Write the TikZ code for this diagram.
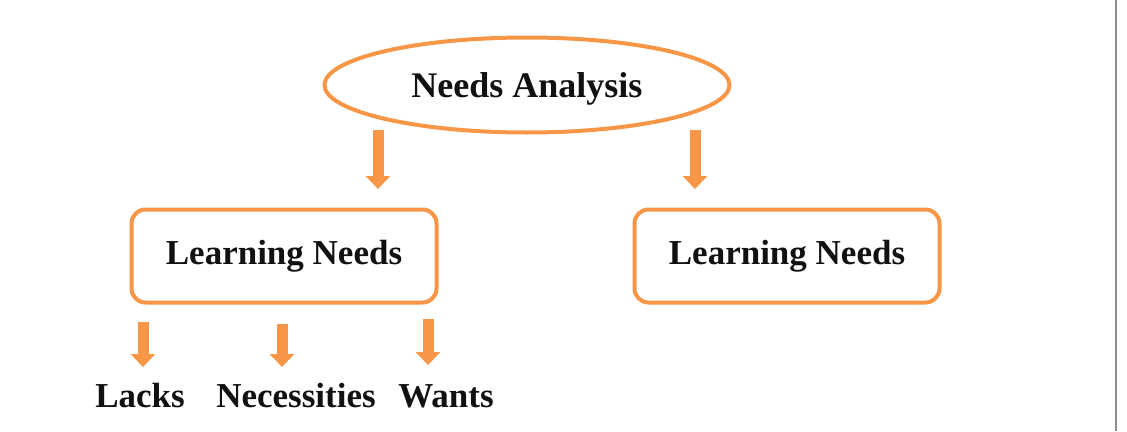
\documentclass[tikz,border=0pt]{standalone}
\usepackage{fontspec}
\setmainfont{Liberation Serif}
\usetikzlibrary{arrows.meta,positioning,calc,shapes.geometric}
\definecolor{Accent}{HTML}{F79646}
\definecolor{Ink}{HTML}{111111}
\definecolor{Rule}{HTML}{8C8C8C}
\tikzset{
  topnode/.style={draw=Accent,ellipse,line width=4pt,minimum width=405pt,minimum height=95pt,inner sep=0pt,text depth=0pt,align=center,font=\fontsize{36}{42}\selectfont\bfseries,text=Ink},
  needbox/.style={draw=Accent,rounded corners=14pt,line width=4pt,minimum width=305pt,minimum height=93pt,align=center,font=\fontsize{35}{42}\selectfont\bfseries,text=Ink},
  itemtext/.style={inner sep=0pt,anchor=base,font=\fontsize{35}{42}\selectfont\bfseries,text=Ink},
  bigarrow/.style={-{Triangle[width=24pt,length=13pt]},draw=Accent,line width=11pt}
}

\begin{document}
\begin{tikzpicture}[x=1pt,y=-1pt]
  \useasboundingbox (0,0) rectangle (1127,431);
  \node[topnode] (analysis) at (527,85) {Needs Analysis};
  \node[needbox] (learnL) at (284,256) {Learning Needs};
  \node[needbox] (learnR) at (787,256) {Learning Needs};
  \node[itemtext] (lacks) at (140,407) {Lacks};
  \node[itemtext] (necess) at (296,407) {Necessities};
  \node[itemtext] (wants) at (446,407) {Wants};
  \coordinate (aLs) at (378,130);
  \coordinate (aLe) at (378,189);
  \coordinate (aRs) at (695,130);
  \coordinate (aRe) at (695,189);
  \coordinate (lacksTop) at (143,322);
  \coordinate (necessTop) at (282,324);
  \coordinate (wantsTop) at (428,319);
  \draw[bigarrow] (aLs) -- (aLe);
  \draw[bigarrow] (aRs) -- (aRe);
  \draw[bigarrow] (lacksTop) -- (lacksTop |- 0,367);
  \draw[bigarrow] (necessTop) -- (necessTop |- 0,367);
  \draw[bigarrow] (wantsTop) -- (wantsTop |- 0,365);
  \draw[Rule,line width=2pt] (1116,0) -- (1116,431);
\end{tikzpicture}
\end{document}
